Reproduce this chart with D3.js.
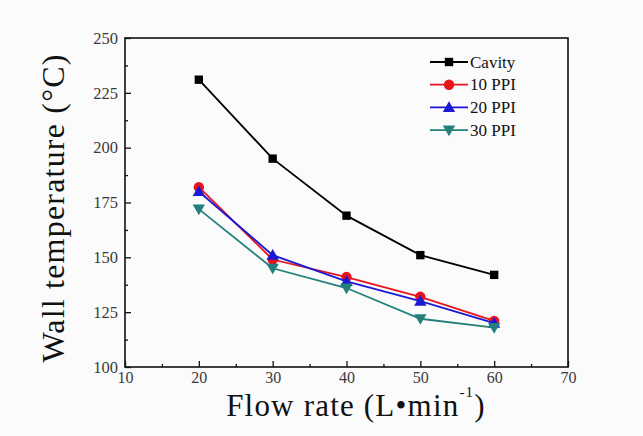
<!DOCTYPE html>
<html>
<head>
<meta charset="utf-8">
<script src="https://cdn.jsdelivr.net/npm/d3@7"></script>
<style>
  html, body { margin: 0; padding: 0; background: #fbfbfb; }
  svg { display: block; }
  text { font-family: "Liberation Serif", "Times New Roman", serif; }
</style>
</head>
<body>
<svg id="chart" width="643" height="436"></svg>
<script>
// Wall temperature versus coolant flow rate for a cavity and three foam densities
const flowRates = [20, 30, 40, 50, 60];
const cavity = [231, 195, 169, 151, 142];
const ppi10 = [182, 149, 141, 132, 121];
const ppi20 = [180, 151, 139, 130, 120];
const ppi30 = [172, 145, 136, 122, 118];
const seriesNames = ["Cavity", "10 PPI", "20 PPI", "30 PPI"];
const xTicks = [10, 20, 30, 40, 50, 60, 70];
const yTicks = [100, 125, 150, 175, 200, 225, 250];

const series = [
  { name: seriesNames[0], values: cavity, color: "#000000", symbol: d3.symbolSquare, size: 70, rot: 0 },
  { name: seriesNames[1], values: ppi10, color: "#e8141b", symbol: d3.symbolCircle, size: 85, rot: 0 },
  { name: seriesNames[2], values: ppi20, color: "#1a1ad6", symbol: d3.symbolTriangle, size: 66, rot: 0 },
  { name: seriesNames[3], values: ppi30, color: "#23807a", symbol: d3.symbolTriangle, size: 66, rot: 180 }
];

const svg = d3.select("#chart");
const plotLeft = 125, plotRight = 568, plotTop = 38, plotBottom = 367;

const x = d3.scaleLinear().domain([10, 70]).range([plotLeft, plotRight]);
const y = d3.scaleLinear().domain([100, 250]).range([plotBottom, plotTop]);

// Plot frame
svg.append("rect")
  .attr("x", plotLeft).attr("y", plotTop)
  .attr("width", plotRight - plotLeft).attr("height", plotBottom - plotTop)
  .attr("fill", "none").attr("stroke", "#111").attr("stroke-width", 1.6);

// Minor ticks (inward)
const xMinor = d3.range(15, 70, 10);
const yMinor = d3.range(112.5, 250, 25);
svg.append("g").attr("transform", `translate(0,${plotBottom})`)
  .call(d3.axisBottom(x).tickValues(xMinor).tickSize(-3).tickFormat(""))
  .call(g => g.select(".domain").remove())
  .selectAll("line").attr("stroke", "#111").attr("stroke-width", 1.3);
svg.append("g").attr("transform", `translate(${plotLeft},0)`)
  .call(d3.axisLeft(y).tickValues(yMinor).tickSize(-3).tickFormat(""))
  .call(g => g.select(".domain").remove())
  .selectAll("line").attr("stroke", "#111").attr("stroke-width", 1.3);

// Major ticks with labels
const xAxis = svg.append("g").attr("transform", `translate(0,${plotBottom})`)
  .call(d3.axisBottom(x).tickValues(xTicks).tickSize(-6).tickPadding(5).tickFormat(d3.format("d")));
xAxis.select(".domain").remove();
xAxis.selectAll("line").attr("stroke", "#111").attr("stroke-width", 1.3);
xAxis.selectAll("text").attr("font-size", 16).attr("fill", "#3a3a3a")
  .attr("font-family", "Liberation Serif, serif");

const yAxis = svg.append("g").attr("transform", `translate(${plotLeft},0)`)
  .call(d3.axisLeft(y).tickValues(yTicks).tickSize(-6).tickPadding(7).tickFormat(d3.format("d")));
yAxis.select(".domain").remove();
yAxis.selectAll("line").attr("stroke", "#111").attr("stroke-width", 1.3);
yAxis.selectAll("text").attr("font-size", 16.5).attr("fill", "#3a3a3a")
  .attr("font-family", "Liberation Serif, serif");

// Axis titles
const xt = svg.append("text")
  .attr("x", 356).attr("y", 416)
  .attr("text-anchor", "middle").attr("font-size", 31)
  .attr("letter-spacing", 1.2).attr("fill", "#111");
xt.append("tspan").text("Flow rate (L\u2022min");
xt.append("tspan").attr("font-size", 15).attr("dy", -19).text("-1");
xt.append("tspan").attr("dy", 19).text(")");

svg.append("text")
  .attr("transform", `translate(64,208) rotate(-90)`)
  .attr("text-anchor", "middle").attr("font-size", 32)
  .attr("letter-spacing", 1.2).attr("fill", "#111")
  .text("Wall temperature (\u00B0C)");

// Lines and markers
const line = d3.line().x((d, i) => x(flowRates[i])).y(d => y(d));
const markerShift = s => (s.rot ? -1 : (s.symbol === d3.symbolTriangle ? 1 : 0));
series.forEach(s => {
  svg.append("path").datum(s.values)
    .attr("d", line).attr("fill", "none")
    .attr("stroke", s.color).attr("stroke-width", 1.8);
  svg.append("g").selectAll("path").data(s.values).join("path")
    .attr("d", d3.symbol().type(s.symbol).size(s.size))
    .attr("transform", (d, i) => `translate(${x(flowRates[i])},${y(d) + markerShift(s)}) rotate(${s.rot})`)
    .attr("fill", s.color);
});

// Legend
const legend = svg.append("g");
series.forEach((s, i) => {
  const ly = 62 + i * 22.7;
  legend.append("line")
    .attr("x1", 430).attr("x2", 468).attr("y1", ly).attr("y2", ly)
    .attr("stroke", s.color).attr("stroke-width", 1.8);
  legend.append("path")
    .attr("d", d3.symbol().type(s.symbol).size(s.size))
    .attr("transform", `translate(449,${ly + markerShift(s)}) rotate(${s.rot})`)
    .attr("fill", s.color);
  legend.append("text")
    .attr("x", 470).attr("y", ly + 5.5)
    .attr("font-size", 17).attr("fill", "#111")
    .text(s.name);
});
</script>
</body>
</html>
